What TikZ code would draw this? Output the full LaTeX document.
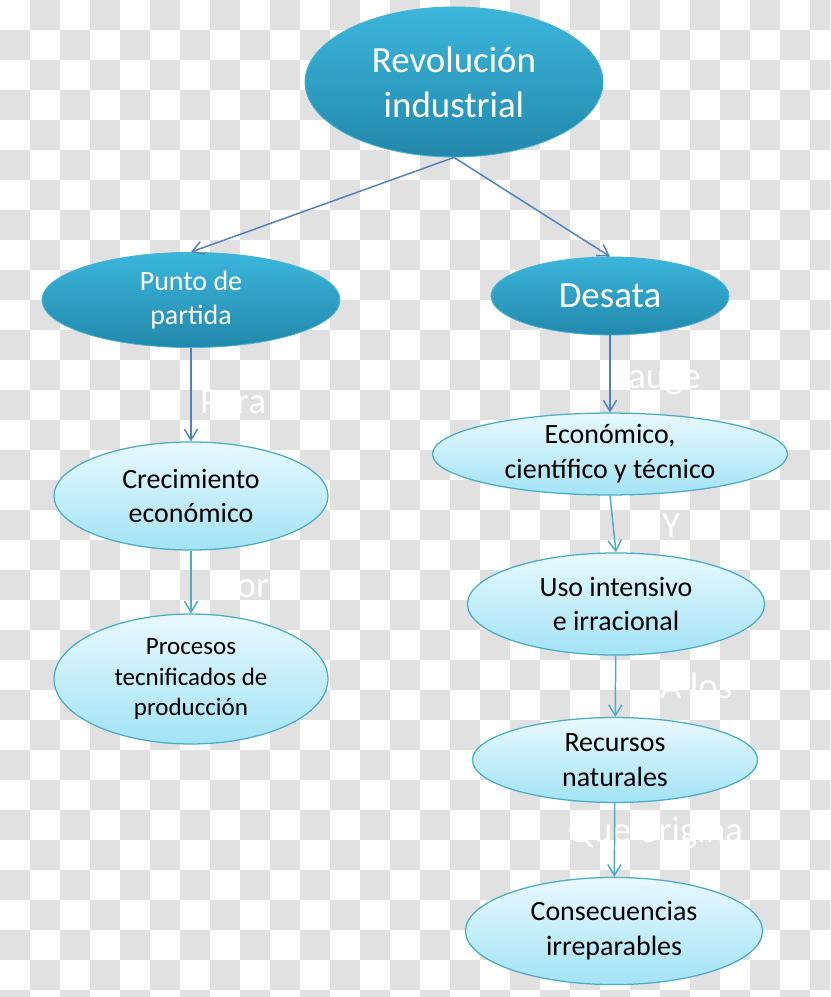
\documentclass[tikz,border=0pt]{standalone}
\usepackage{fontspec}
\setmainfont{Carlito}
\usetikzlibrary{shapes.geometric,arrows.meta}
\definecolor{checkgray}{RGB}{225,225,225}
\definecolor{darktop}{RGB}{60,182,220}
\definecolor{darkbot}{RGB}{34,136,171}
\definecolor{darkedge}{RGB}{70,180,215}
\definecolor{lighttop}{RGB}{232,249,254}
\definecolor{lightbot}{RGB}{162,227,246}
\definecolor{lightedge}{RGB}{75,172,198}
\definecolor{linkblue}{RGB}{79,129,189}
\definecolor{linkteal}{RGB}{75,172,198}
\begin{document}
\begin{tikzpicture}[x=0.03333cm, y=-0.03333cm,
  darkbub/.style={ellipse, top color=darktop, bottom color=darkbot, draw=darkedge, line width=0.8pt, text=white, align=center, inner sep=-3pt},
  lightbub/.style={ellipse, top color=lighttop, bottom color=lightbot, draw=lightedge, line width=1.2pt, text=black, align=center, inner sep=-3pt},
  big/.style={font=\fontsize{35}{43}\selectfont},
  mid/.style={font=\fontsize{26.5}{33}\selectfont},
  small/.style={font=\fontsize{23.7}{28.5}\selectfont},
  link/.style={line width=1.4pt, -{Straight Barb[length=3.6mm,width=4.4mm]}},
  tag/.style={text=white, anchor=base west, inner sep=0pt, font=\fontsize{35}{43}\selectfont}]
\useasboundingbox (0,0) rectangle (830,997);

% transparent background
\begin{scope}
\clip (0,0) rectangle (830,997);
\foreach \i in {0,...,27}
  \foreach \j in {0,...,33}{
    \pgfmathtruncatemacro\k{mod(\i+\j,2)}
    \ifnum\k=1 \fill[checkgray] (\i*30,\j*30) rectangle ++(30,30); \fi
  }
\end{scope}

\node[tag] (para) at (200,413) {Para};
\node[tag] (auge) at (628,388) {auge};
\node[tag] (yy) at (662,537) {Y};
\node[tag] (por) at (218,597) {Por};
\node[tag] (alos) at (660,698) {A los};
\node[tag] (origina) at (568,842) {Que origina};

\node[darkbub, big, minimum width=9.93cm, minimum height=5cm] (rev) at (454,82) {Revolución\\industrial};
\node[darkbub, mid, minimum width=9.93cm, minimum height=3.17cm] (start) at (191,300) {Punto de\\partida};
\node[darkbub, big, minimum width=7.93cm, minimum height=2.6cm] (unleash) at (610,296) {Desata};

\node[lightbub, mid, minimum width=11.83cm, minimum height=2.73cm, inner xsep=-12pt] (econ) at (610,454) {Económico,\\científico y técnico};
\node[lightbub, mid, minimum width=9.13cm, minimum height=3.6cm] (growth) at (191,496) {Crecimiento\\económico};
\node[lightbub, small, minimum width=9.13cm, minimum height=4.33cm] (process) at (191,679) {Procesos\\tecnificados de\\producción};
\node[lightbub, mid, minimum width=9.9cm, minimum height=3.4cm] (use) at (616,604) {Uso intensivo\\e irracional};
\node[lightbub, mid, minimum width=9.5cm, minimum height=2.83cm] (res) at (615,760) {Recursos\\naturales};
\node[lightbub, mid, minimum width=9.9cm, minimum height=3.57cm] (cons) at (614,931) {Consecuencias\\irreparables};

\draw[link, linkblue] (rev.south) -- (start.north);
\draw[link, linkblue] (rev.south) -- (unleash.north);
\draw[link, linkblue] (start) -- (growth);
\draw[link, linkblue] (unleash) -- (econ);
\draw[link, linkteal] (growth) -- (process);
\draw[link, linkteal] (econ.south) -- (use.north);
\draw[link, linkteal] (use) -- (res);
\draw[link, linkteal] (res) -- (cons);
\end{tikzpicture}
\end{document}
